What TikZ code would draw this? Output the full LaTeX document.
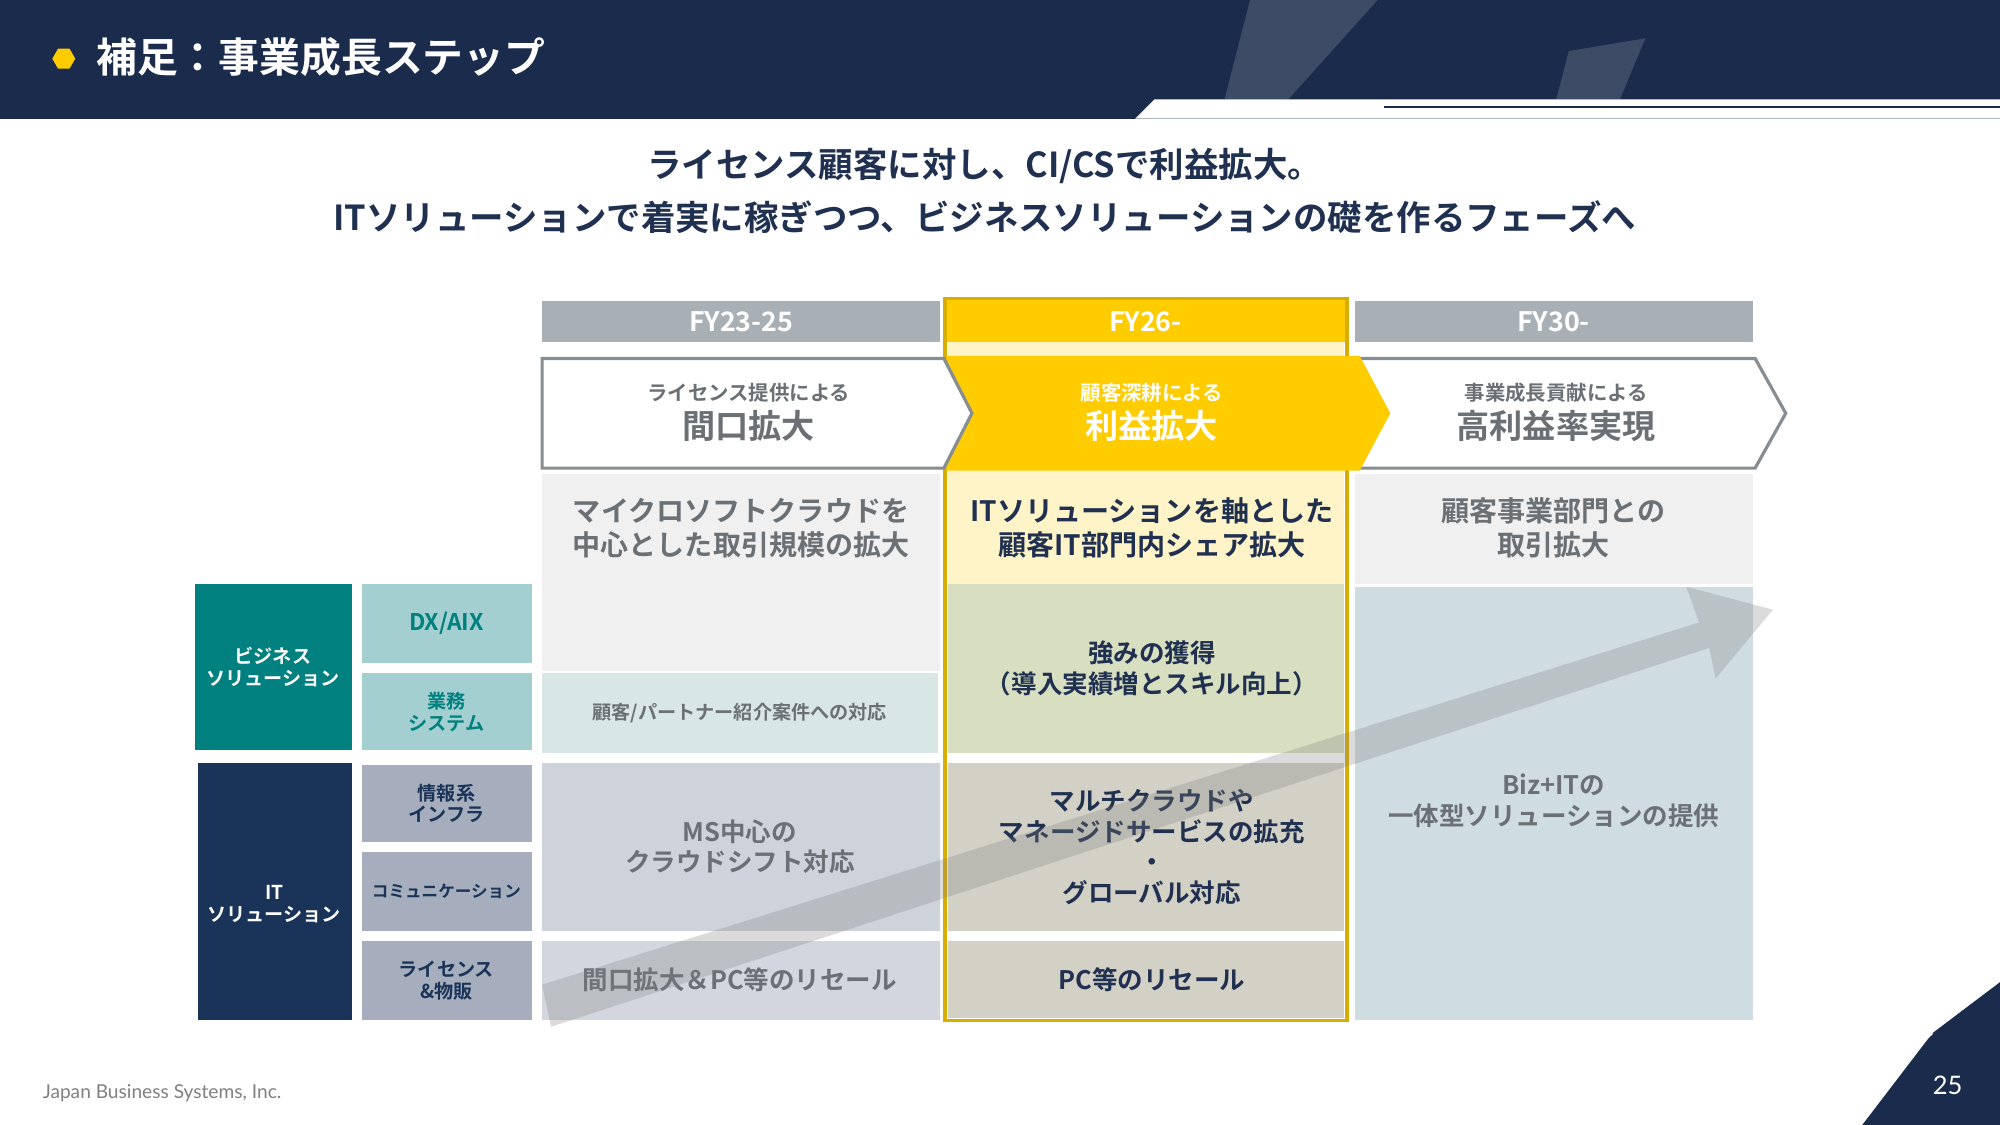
\documentclass[tikz,border=0pt]{standalone}
\usepackage{fontspec}
\usetikzlibrary{shapes.geometric}
\setmainfont{Noto Sans CJK JP}
\newfontfamily\jb{Noto Sans CJK JP Bold}
\newfontfamily\lat{Lato}
\begin{document}
\begin{tikzpicture}[x=1pt,y=-1pt,
  hdr/.style={font=\jb\fontsize{21}{23}\selectfont,text=white},
  small/.style={font=\jb\fontsize{16}{18}\selectfont},
  big/.style={font=\jb\fontsize{26}{28}\selectfont},
  lbl/.style={font=\jb\fontsize{15}{17}\selectfont,align=center}]
\definecolor{navy}{HTML}{1B2B4B}
\definecolor{gold}{HTML}{FFCC00}
\definecolor{gry}{HTML}{A9B0B5}
\definecolor{teal}{HTML}{00817F}
\definecolor{lteal}{HTML}{A3CFD0}
\definecolor{itnav}{HTML}{1A3358}
\definecolor{itg}{HTML}{A6ADBC}
\definecolor{txt}{HTML}{1F3050}
\definecolor{dgr}{HTML}{6B7075}
\definecolor{c1b}{HTML}{D9E6E6}
\definecolor{c2a}{HTML}{D8DFC0}
\definecolor{c2b}{HTML}{D3D1C6}
\definecolor{c3}{HTML}{CFDDE2}
\useasboundingbox (0,0) rectangle (1568,882);
\fill[white] (0,0) rectangle (1568,882);
% header
\fill[navy] (0,0) rectangle (1568,93);
\fill[navy!85!white] (980,0) -- (1080,0) -- (1010,78) -- (960,78) -- cycle;
\fill[navy!85!white] (1230,40) -- (1290,30) -- (1270,78) -- (1220,78) -- cycle;
\fill[white] (890,93) -- (905,78) -- (1568,78) -- (1568,93) -- cycle;
\draw[navy,line width=2pt] (1085,84) -- (1568,84);
\node[regular polygon,regular polygon sides=6,fill=gold,minimum size=18pt,inner sep=0pt] (bul) at (50,46) {};
\node[anchor=west,text=white,font=\jb\fontsize{32}{34}\selectfont] (ttl) at (72,45) {補足：事業成長ステップ};
% headlines
\node[text=txt,font=\jb\fontsize{27}{30}\selectfont] (h1) at (772,130) {ライセンス顧客に対し、CI/CSで利益拡大。};
\node[text=txt,font=\jb\fontsize{27}{30}\selectfont] (h2) at (772,170) {ITソリューションで着実に稼ぎつつ、ビジネスソリューションの礎を作るフェーズへ};
% column headers
\fill[gry] (425,236) rectangle (737,268);
\node[hdr] (c1) at (581,252) {FY23-25};
\fill[gold] (741,234) rectangle (1056,268);
\node[hdr] (c2) at (898,252) {FY26-};
\fill[gry] (1062,236) rectangle (1374,268);
\node[hdr] (c3) at (1218,252) {FY30-};
% description row
\fill[black!6] (425,372) rectangle (737,458);
\fill[gold!22] (743,268) rectangle (1054,458);
\fill[black!6] (1062,372) rectangle (1374,458);
\draw[gold!85!black,line width=3pt] (741,234) rectangle (1056,800);
% chevrons
\draw[gry!80!black,line width=2.5pt,fill=white] (1062,281) -- (1376,281) -- (1400,324) -- (1376,367) -- (1062,367) -- cycle;
\fill[gold] (742,279) -- (1066,279) -- (1090,324) -- (1066,369) -- (742,369) -- cycle;
\draw[gry!80!black,line width=2.5pt,fill=white] (425,281) -- (740,281) -- (762,324) -- (740,367) -- (425,367) -- cycle;
\node[small,text=dgr] (a1s) at (587,308) {ライセンス提供による};
\node[big,text=dgr] (a1) at (587,334) {間口拡大};
\node[small,text=white] (a2s) at (903,308) {顧客深耕による};
\node[big,text=white] (a2) at (903,334) {利益拡大};
\node[small,text=dgr] (a3s) at (1220,308) {事業成長貢献による};
\node[big,text=dgr] (a3) at (1220,334) {高利益率実現};
\node[lbl,font=\jb\fontsize{22}{27}\selectfont,text=dgr] (d1) at (581,414) {マイクロソフトクラウドを\\中心とした取引規模の拡大};
\node[lbl,font=\jb\fontsize{22}{27}\selectfont,text=txt] (d2) at (903,414) {ITソリューションを軸とした\\顧客IT部門内シェア拡大};
\node[lbl,font=\jb\fontsize{22}{27}\selectfont,text=dgr] (d3) at (1218,414) {顧客事業部門との\\取引拡大};
% left labels
\fill[teal] (153,458) rectangle (276,588);
\node[lbl,text=white] (bs) at (214,523) {ビジネス\\ソリューション};
\fill[lteal] (284,458) rectangle (417,520);
\node[lbl,font=\jb\fontsize{18}{20}\selectfont,text=teal] (dx) at (350,489) {DX/AIX};
\fill[lteal] (284,528) rectangle (417,588);
\node[lbl,text=teal] (gm) at (350,558) {業務\\システム};
\fill[itnav] (155,598) rectangle (276,800);
\node[lbl,text=white] (it) at (215,709) {IT\\ソリューション};
\fill[itg] (284,600) rectangle (417,660);
\node[lbl,text=itnav] (jk) at (350,630) {情報系\\インフラ};
\fill[itg] (284,668) rectangle (417,730);
\node[lbl,font=\jb\fontsize{13}{15}\selectfont,text=itnav] (cm) at (350,699) {コミュニケーション};
\fill[itg] (284,738) rectangle (417,800);
\node[lbl,text=itnav] (ls) at (350,769) {ライセンス\\\&物販};
% col1 cells
\fill[black!6] (425,458) rectangle (737,526);
\fill[c1b] (425,528) rectangle (735,590);
\node[lbl,text=dgr] (k1) at (580,559) {顧客/パートナー紹介案件への対応};
\fill[itg!55] (425,598) rectangle (737,730);
\node[lbl,font=\jb\fontsize{20}{24}\selectfont,text=dgr] (k2) at (580,664) {MS中心の\\クラウドシフト対応};
\fill[itg!50] (425,738) rectangle (737,800);
\node[lbl,font=\jb\fontsize{20}{24}\selectfont,text=dgr] (k3) at (580,768) {間口拡大＆PC等のリセール};
% col2 cells
\fill[c2a] (743,458) rectangle (1054,590);
\fill[c2b] (743,598) rectangle (1054,730);
\fill[c2b] (743,738) rectangle (1054,798);
\node[lbl,font=\jb\fontsize{20}{24}\selectfont,text=txt] (m1) at (903,524) {強みの獲得\\（導入実績増とスキル向上）};
\node[lbl,font=\jb\fontsize{20}{24}\selectfont,text=txt] (m2) at (903,664) {マルチクラウドや\\マネージドサービスの拡充\\・\\グローバル対応};
\node[lbl,font=\jb\fontsize{20}{24}\selectfont,text=txt] (m3) at (903,768) {PC等のリセール};
% col3
\fill[c3] (1062,460) rectangle (1374,800);
\node[lbl,font=\jb\fontsize{20}{24}\selectfont,text=dgr] (r1) at (1218,628) {Biz+ITの\\一体型ソリューションの提供};
% big arrow
\fill[gray,opacity=0.28] (425,772) -- (1332,488) -- (1322,460) -- (1390,478) -- (1345,532) -- (1340,508) -- (432,805) -- cycle;
% footer
\node[anchor=west,text=black!50,font=\lat\fontsize{15}{17}\selectfont] (ft) at (30,857) {Japan Business Systems, Inc.};
\fill[navy] (1460,882) -- (1515,810) -- (1568,770) -- (1568,882) -- cycle;
\draw[white,line width=1.5pt] (1435,882) -- (1515,810);
\node[text=white,font=\lat\fontsize{20}{22}\selectfont] (pg) at (1527,851) {25};
\end{tikzpicture}
\end{document}
